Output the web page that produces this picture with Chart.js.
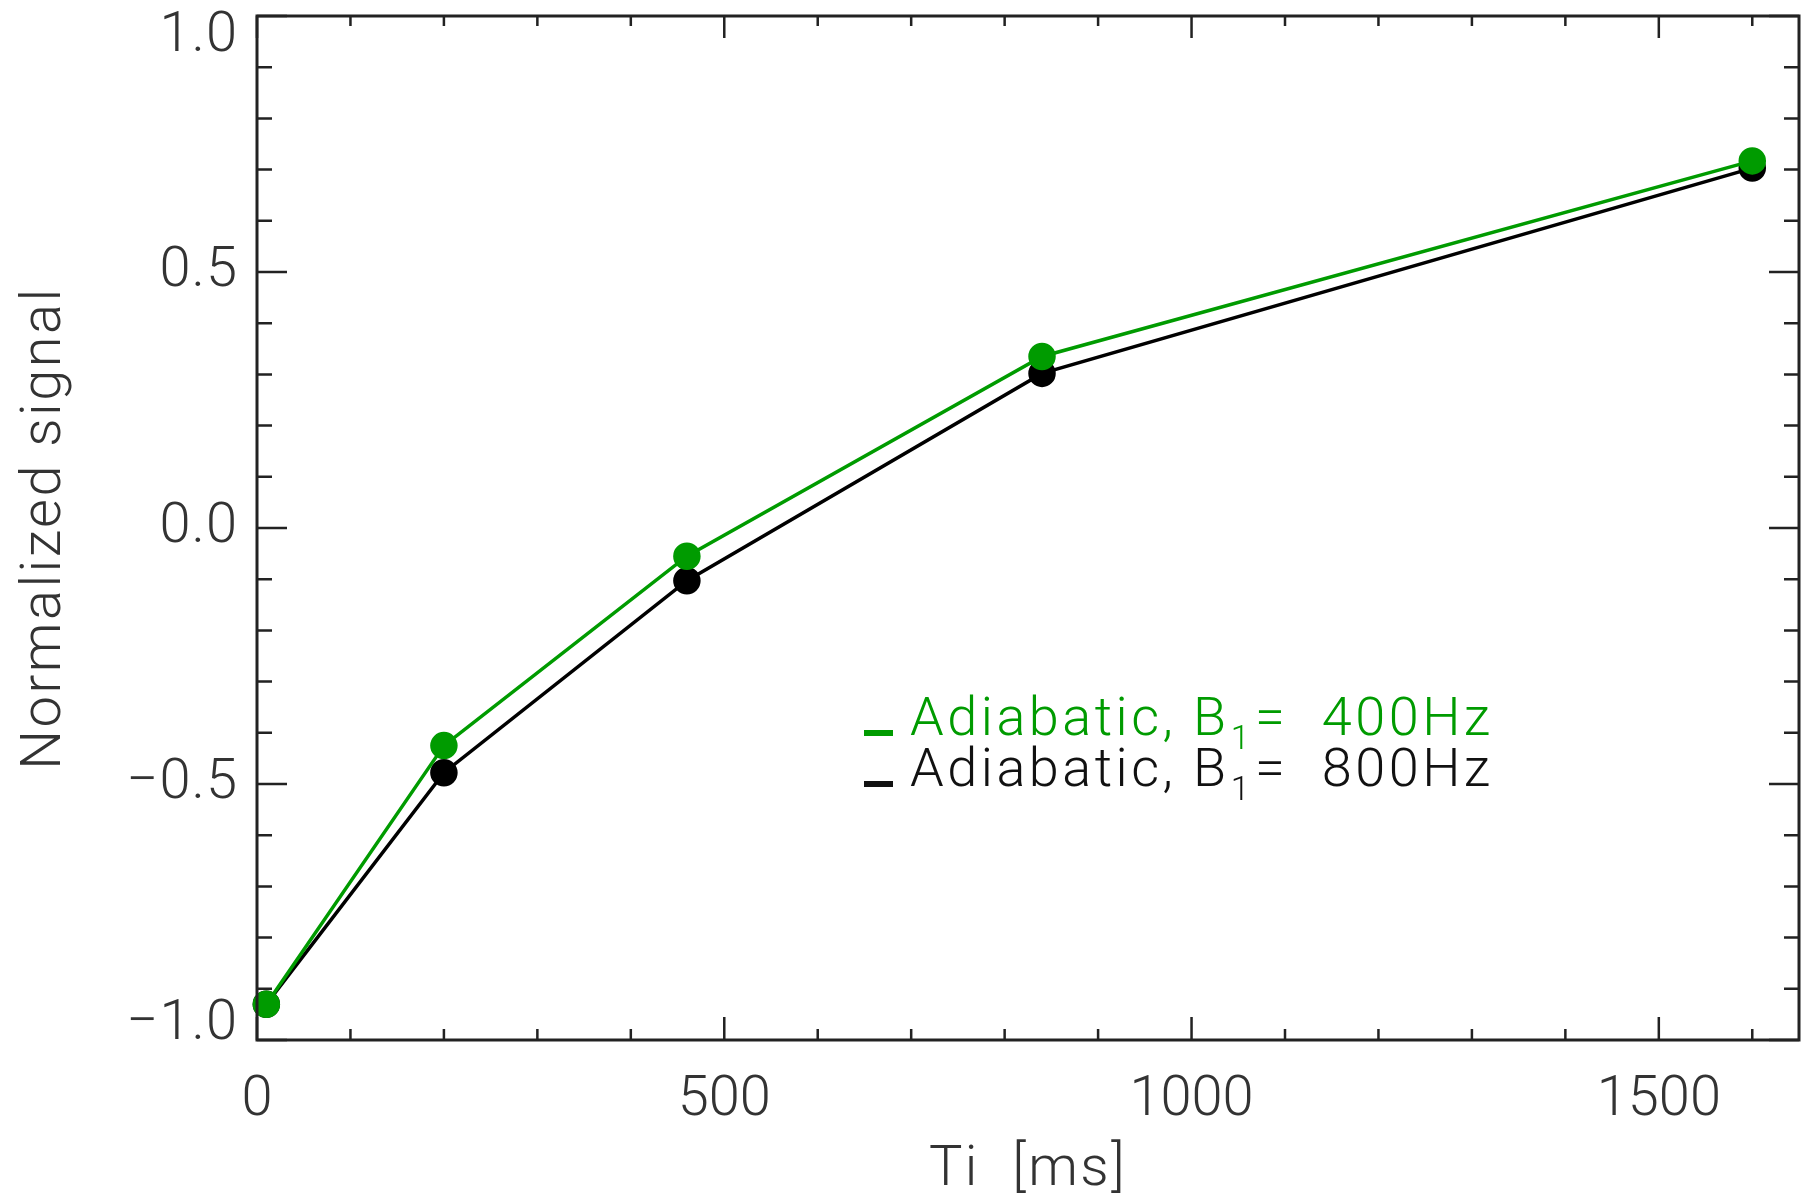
<!DOCTYPE html>
<html>
<head>
<meta charset="utf-8">
<script src="https://cdn.jsdelivr.net/npm/chart.js@4"></script>
<style>
  body { margin: 0; background: #fff; }
</style>
</head>
<body>
<canvas id="myChart" width="1815" height="1201"></canvas>
<script>
// inversion times [ms]
var tiValues = [10, 200, 460, 840, 1600];
var signal400 = [-0.93, -0.425, -0.055, 0.335, 0.717];
var signal800 = [-0.93, -0.478, -0.103, 0.302, 0.703];

var xTickLabels = [0, 500, 1000, 1500];
var yTickLabels = [-1.0, -0.5, 0.0, 0.5, 1.0];

var seriesNames = ['Adiabatic, B|1|=  400Hz', 'Adiabatic, B|1|=  800Hz'];

var green = 'rgb(0,155,0)';
var textGray = '#333';
var fontName = 'Roboto, "Liberation Sans", sans-serif';

function toPoints(xs, ys) {
  return xs.map(function(x, i) { return { x: x, y: ys[i] }; });
}

// IDL style box with inward ticks on all 4 sides, labels, titles
var boxPlugin = {
  id: 'idlBox',
  afterDraw: function(chart) {
    var ctx = chart.ctx;
    var a = chart.chartArea;
    var xs = chart.scales.x;
    var ys = chart.scales.y;
    ctx.save();
    ctx.strokeStyle = '#222';
    ctx.lineWidth = 3;
    ctx.strokeRect(a.left, a.top, a.right - a.left, a.bottom - a.top);

    ctx.lineWidth = 2.5;
    xs.ticks.forEach(function(t) {
      if (t.value % 100 != 0) return;
      var px = xs.getPixelForValue(t.value);
      var major = xTickLabels.indexOf(t.value) >= 0;
      var lenB = major ? 23 : 11;
      var lenT = major ? 22 : 10;
      ctx.beginPath();
      ctx.moveTo(px, a.bottom); ctx.lineTo(px, a.bottom - lenB);
      ctx.moveTo(px, a.top); ctx.lineTo(px, a.top + lenT);
      ctx.stroke();
    });
    ys.ticks.forEach(function(t) {
      var v = Math.round(t.value * 10);
      var py = ys.getPixelForValue(t.value);
      var major = yTickLabels.indexOf(v / 10) >= 0;
      var len = major ? 30 : 15;
      ctx.beginPath();
      ctx.moveTo(a.left, py); ctx.lineTo(a.left + len, py);
      ctx.moveTo(a.right, py); ctx.lineTo(a.right - len, py);
      ctx.stroke();
    });

    // tick labels
    ctx.fillStyle = textGray;
    ctx.font = '300 56px ' + fontName;
    ctx.textAlign = 'center';
    ctx.textBaseline = 'middle';
    xTickLabels.forEach(function(v) {
      ctx.fillText(String(v), xs.getPixelForValue(v), a.bottom + 61);
    });
    ctx.textAlign = 'right';
    ctx.letterSpacing = '1px';
    yTickLabels.forEach(function(v) {
      var py = ys.getPixelForValue(v);
      py = Math.max(a.top + 21, Math.min(a.bottom - 15, py));
      var s = v.toFixed(1).replace('-', '\u2212');
      ctx.fillText(s, a.left - 19, py);
    });

    // axis titles
    ctx.textAlign = 'center';
    ctx.letterSpacing = '2.5px';
    ctx.fillText('Ti  [ms]', (a.left + a.right) / 2, a.bottom + 131);
    ctx.save();
    ctx.translate(46, (a.top + a.bottom) / 2);
    ctx.rotate(-Math.PI / 2);
    ctx.fillText('Normalized signal', 0, 0);
    ctx.restore();

    // legend
    var colors = [green, '#111'];
    var baseY = [735, 786];
    ctx.textAlign = 'left';
    ctx.textBaseline = 'alphabetic';
    ctx.letterSpacing = '3.5px';
    seriesNames.forEach(function(name, i) {
      var parts = name.split('|');
      var x = 910;
      ctx.fillStyle = colors[i];
      ctx.fillRect(864, baseY[i] - 5, 29, 6);
      ctx.font = '300 54px ' + fontName;
      ctx.fillText(parts[0], x, baseY[i]);
      x += ctx.measureText(parts[0]).width;
      ctx.font = '300 34px ' + fontName;
      ctx.fillText(parts[1], x + 1, baseY[i] + 14);
      x += ctx.measureText(parts[1]).width + 3;
      ctx.font = '300 54px ' + fontName;
      ctx.fillText(parts[2], x, baseY[i]);
    });
    ctx.restore();
  }
};

var data = {
  datasets: [{
    label: 'Adiabatic, B1= 400Hz',
    data: toPoints(tiValues, signal400),
    borderColor: green,
    backgroundColor: green,
    pointBackgroundColor: green,
    pointBorderColor: green,
    borderWidth: 3.5,
    pointRadius: 12,
    clip: false
  }, {
    label: 'Adiabatic, B1= 800Hz',
    data: toPoints(tiValues, signal800),
    borderColor: '#000',
    backgroundColor: '#000',
    pointBackgroundColor: '#000',
    pointBorderColor: '#000',
    borderWidth: 3.5,
    pointRadius: 12,
    clip: false
  }]
};

var config = {
  type: 'line',
  data: data,
  options: {
    responsive: false,
    animation: false,
    layout: { padding: { left: 249, top: 16, right: 16, bottom: 153 } },
    plugins: { legend: { display: false }, tooltip: { enabled: false } },
    scales: {
      x: {
        type: 'linear', min: 0, max: 1650,
        ticks: { display: false, stepSize: 100 },
        grid: { display: false }, border: { display: false }
      },
      y: {
        type: 'linear', min: -1, max: 1,
        ticks: { display: false, stepSize: 0.1 },
        grid: { display: false }, border: { display: false }
      }
    }
  },
  plugins: [boxPlugin]
};

var myChart = new Chart(document.getElementById('myChart'), config);
</script>
</body>
</html>
